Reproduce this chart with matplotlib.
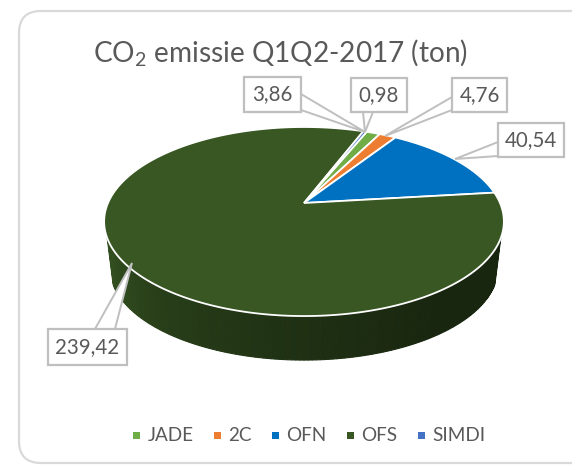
import numpy as np
import matplotlib
matplotlib.use("Agg")
import matplotlib.pyplot as plt
from matplotlib.patches import Polygon, FancyBboxPatch, Rectangle

# data
categories = ["JADE", "2C", "OFN", "OFS", "SIMDI"]
values = [3.86, 4.76, 40.54, 239.42, 0.98]
value_labels = ["3,86", "4,76", "40,54", "239,42", "0,98"]
colors = ["#70AD47", "#ED7D31", "#0070C0", "#385723", "#4472C4"]

# label boxes (x0, y0, x1, y1) and callout (base a, base b, tip), in pixels
label_layout = {
    "JADE": ((244, 77, 301, 112), (301, 94), (301, 110), (365, 132)),
    "2C": ((452, 78, 507, 112), (452, 97), (452, 110), (385, 136)),
    "OFN": ((498, 123, 564, 157), (498, 142), (498, 156), (455, 159)),
    "OFS": ((48, 329, 127, 365), (95, 329), (115, 329), (132, 263)),
    "SIMDI": ((351, 78, 407, 112), (363, 112), (373, 112), (365, 132)),
}
legend_x = [133, 214, 272, 347, 418]

plt.rcParams["font.family"] = ["Lato", "DejaVu Sans"]
plt.rcParams["mathtext.default"] = "regular"
TEXT = "#595959"
LINE = "#BFBFBF"

# the tilted pie: centre, perspective
CX, CY = 304, 203
A, B, K = 90.9, 196, 0.196
FIRST_ANGLE = 22.2
DEPTH, SHRINK = 47.4, 0.97


def project(deg, r=1.0, s=1.0, dy=0.0):
    a = np.radians(deg)
    u, t = r * np.sin(a), r * np.cos(a)
    return CX + s * B * u / (1 + K * t), CY + dy - s * A * t / (1 + K * t)


def side_color(deg):
    # dark green wall, lightest on the left
    f = np.interp(deg, [111, 140, 180, 220, 249], [0.42, 0.42, 0.55, 0.72, 0.92])
    base = np.array(matplotlib.colors.to_rgb(colors[3]))
    return tuple(base * f)


fig = plt.figure(figsize=(5.72, 4.65), dpi=100)
ax = fig.add_axes([0, 0, 1, 1])
ax.set_xlim(0, 572)
ax.set_ylim(465, 0)
ax.axis("off")

ax.add_patch(FancyBboxPatch((19, 11), 600, 452, boxstyle="round,pad=0,rounding_size=22",
                            fc="white", ec="#D9D9D9", lw=1.6, zorder=1))

ax.text(281, 52, "CO$_2$ emissie Q1Q2-2017 (ton)", fontsize=20.2, color=TEXT,
        ha="center", va="center", zorder=5)

# side wall
for d in np.arange(111, 249, 1.0):
    x0, y0 = project(d)
    x1, y1 = project(d + 1)
    x2, y2 = project(d + 1, s=SHRINK, dy=DEPTH)
    x3, y3 = project(d, s=SHRINK, dy=DEPTH)
    c = side_color(d)
    ax.add_patch(Polygon([(x0, y0), (x1, y1), (x2, y2), (x3, y3)], closed=True,
                         fc=c, ec=c, lw=0.8, zorder=2))

# top face, slice sizes from the values
angle = FIRST_ANGLE
sweeps = np.array(values) / sum(values) * 360
for sweep, col in zip(sweeps, colors):
    arc = np.linspace(angle, angle + sweep, max(int(sweep * 2), 4))
    xs, ys = project(arc)
    pts = [(CX, CY)] + list(zip(xs, ys))
    ax.add_patch(Polygon(pts, closed=True, fc=col, ec="white", lw=1.3,
                         joinstyle="miter", zorder=3))
    angle += sweep

# data labels with callouts
for cat, lab in zip(categories, value_labels):
    (x0, y0, x1, y1), b0, b1, tip = label_layout[cat]
    ax.add_patch(Polygon([b0, tip, b1], closed=True, fc="white", ec=LINE, lw=1.4, zorder=6))
    ax.add_patch(Rectangle((x0, y0), x1 - x0, y1 - y0, fc="white", ec=LINE, lw=1.6, zorder=7))
    ax.text((x0 + x1) / 2, (y0 + y1) / 2, lab, fontsize=14.8, color=TEXT,
            ha="center", va="center", zorder=8)

# legend
for cat, col, x in zip(categories, colors, legend_x):
    ax.add_patch(Rectangle((x, 431.5), 7, 7, fc=col, ec="none", zorder=5))
    ax.text(x + 14.5, 435, cat, fontsize=13.6, color=TEXT, ha="left", va="center", zorder=5)

fig.savefig("out.png", dpi=100)
